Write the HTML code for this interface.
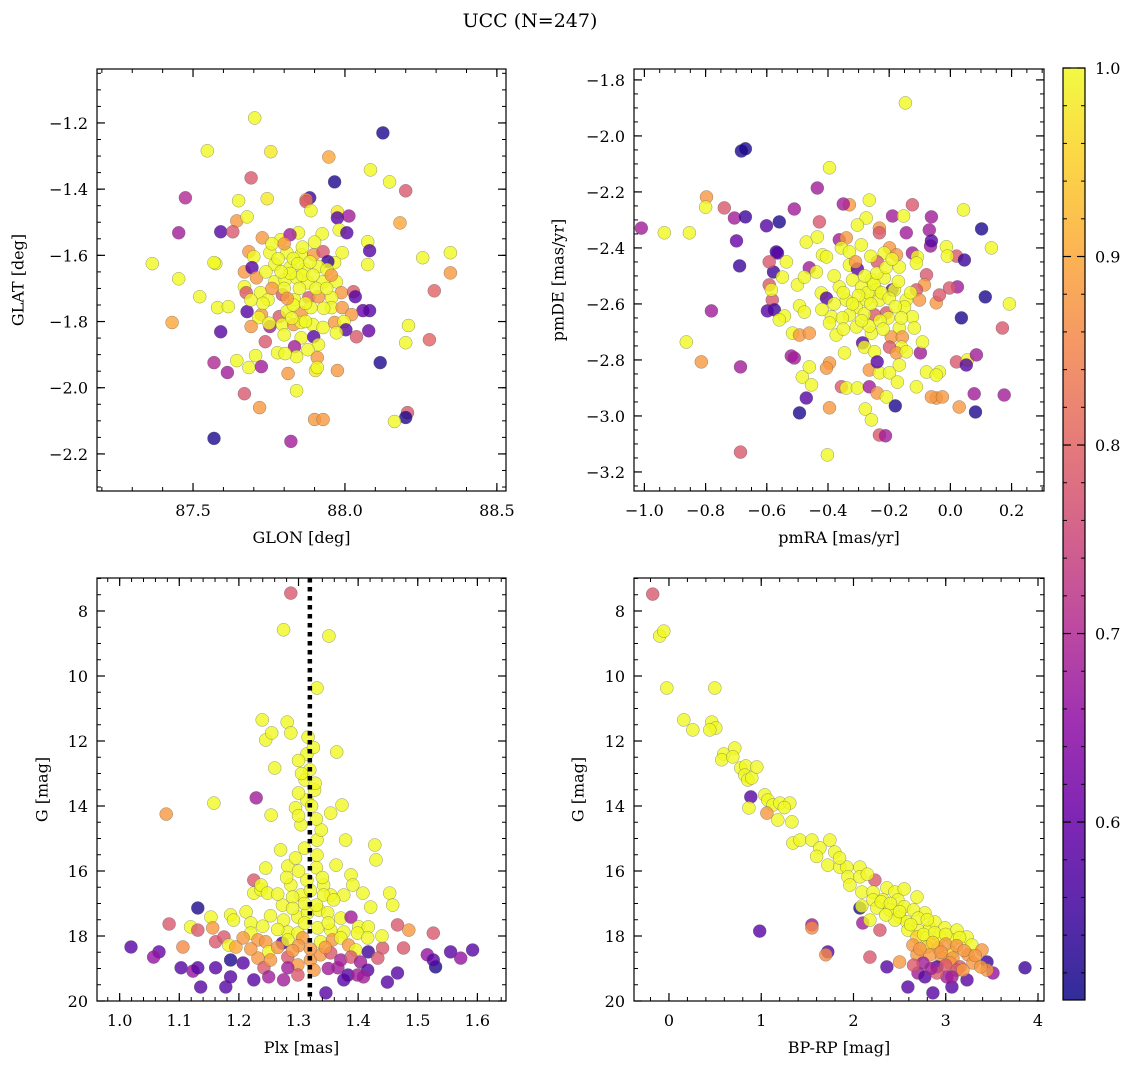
<!DOCTYPE html>
<html><head><meta charset="utf-8"><style>
html,body{margin:0;padding:0;background:#fff;}
svg{display:block;font-family:"DejaVu Serif","Liberation Serif",serif;}
</style></head><body>
<svg id="fig" width="1136" height="1068" viewBox="0 0 1136 1068" xmlns="http://www.w3.org/2000/svg">
<defs>
<linearGradient id="plasmaGrad" x1="0" y1="1" x2="0" y2="0">
<stop offset="0" stop-color="#0d0887"/><stop offset="0.1" stop-color="#41049d"/><stop offset="0.2" stop-color="#6a00a8"/><stop offset="0.3" stop-color="#8f0da4"/><stop offset="0.4" stop-color="#b12a90"/><stop offset="0.5" stop-color="#cc4778"/><stop offset="0.6" stop-color="#e16462"/><stop offset="0.7" stop-color="#f2844b"/><stop offset="0.8" stop-color="#fca636"/><stop offset="0.9" stop-color="#fcce25"/><stop offset="1" stop-color="#f0f921"/>
</linearGradient>
</defs>
<text x="530" y="27" font-size="19" text-anchor="middle">UCC (N=247)</text>
</svg>
<script>
// ---- data: [x, y, membership probability] ----
const glonGlatData = [
[87.703,-1.185,1],[88.125,-1.230,0.52],[87.547,-1.284,1],[87.756,-1.287,0.98],[87.947,-1.303,0.9],[88.084,-1.342,1],[88.147,-1.378,1],[87.966,-1.378,0.52],[88.200,-1.405,0.78],[87.475,-1.426,0.7],[87.691,-1.366,0.78],[87.744,-1.429,0.98],[87.650,-1.435,1],[87.884,-1.426,0.55],[87.872,-1.432,0.88],[87.975,-1.469,0.98],[87.453,-1.532,0.68],[88.347,-1.592,1],[87.366,-1.625,1],[87.575,-1.625,1],[88.256,-1.607,1],[87.453,-1.671,1],[88.347,-1.653,0.88],[88.294,-1.707,0.8],[87.522,-1.725,1],[87.431,-1.803,0.9],[88.059,-1.767,0.6],[88.278,-1.855,0.8],[88.200,-1.864,1],[87.669,-2.018,0.78],[87.719,-2.060,0.88],[87.900,-2.096,0.88],[87.928,-2.096,0.88],[88.206,-2.075,0.78],[88.200,-2.090,0.52],[88.163,-2.102,1],[87.822,-2.162,0.68],[87.569,-2.153,0.52],[88.078,-1.828,0.6],[87.841,-2.009,1],[87.975,-1.948,0.88],[87.903,-1.948,0.98],
[87.872,-1.438,0.78],[87.888,-1.465,1],[88.013,-1.481,0.68],[87.975,-1.487,0.58],[87.644,-1.496,0.88],[87.678,-1.484,1],[87.591,-1.529,0.58],[87.631,-1.529,0.78],[87.728,-1.547,0.88],[87.788,-1.553,1],[87.847,-1.532,1],[87.819,-1.538,0.68],[87.925,-1.535,1],[87.981,-1.523,1],[88.006,-1.532,0.58],[88.075,-1.559,1],[88.081,-1.586,0.58],[88.181,-1.502,0.9],[87.569,-1.622,1],[87.684,-1.589,0.88],[87.700,-1.604,1],[87.753,-1.592,1],[87.809,-1.592,1],[87.856,-1.598,1],[87.897,-1.598,0.88],[87.928,-1.589,0.78],[87.991,-1.592,1],[87.966,-1.622,1],[87.944,-1.619,0.55],[87.669,-1.650,0.88],[87.694,-1.637,0.58],[87.769,-1.628,1],[87.819,-1.637,1],[87.866,-1.643,1],[87.913,-1.634,1],[87.941,-1.643,1],[87.709,-1.668,0.88],[87.669,-1.695,1],[87.675,-1.713,0.78],[87.722,-1.713,1],[87.769,-1.680,1],[87.803,-1.674,1],[87.841,-1.668,1],[87.878,-1.683,1],[87.928,-1.680,1],[87.972,-1.680,1],[87.988,-1.713,0.88],[88.028,-1.710,0.78],[88.034,-1.725,0.58],[88.075,-1.628,1],[87.747,-1.734,1],[87.794,-1.719,0.78],[87.834,-1.734,1],[87.881,-1.728,0.78],[87.913,-1.725,0.88],[87.956,-1.728,1],[87.581,-1.758,1],[87.616,-1.755,1],[87.678,-1.770,0.58],[87.725,-1.779,0.88],[87.716,-1.788,1],[87.784,-1.785,0.78],[87.809,-1.770,1],[87.856,-1.773,0.88],[87.888,-1.758,1],[87.956,-1.758,1],[87.991,-1.758,0.88],[88.022,-1.779,0.88],[88.081,-1.767,0.58],[88.209,-1.812,1],[87.591,-1.831,0.58],[87.691,-1.815,0.88],[87.753,-1.815,0.68],[87.794,-1.809,1],[87.831,-1.809,0.88],[87.856,-1.803,1],[87.894,-1.809,1],[87.928,-1.818,1],[87.966,-1.803,0.88],[87.997,-1.800,1],[88.003,-1.825,0.58],[87.972,-1.834,1],[88.038,-1.846,0.78],[87.738,-1.861,0.78],[87.800,-1.840,1],[87.856,-1.849,1],[87.897,-1.846,0.58],[87.913,-1.870,1],[87.834,-1.876,0.68],[87.841,-1.906,1],[87.778,-1.894,1],[87.803,-1.897,1],[87.878,-1.885,1],[87.909,-1.909,0.88],[87.909,-1.939,1],[88.116,-1.924,0.52],[87.569,-1.924,0.7],[87.613,-1.954,0.68],[87.644,-1.918,1],[87.684,-1.939,1],[87.706,-1.903,1],[87.725,-1.936,0.68],[87.813,-1.957,0.88],
[87.830,-1.610,1],[87.845,-1.625,1],[87.860,-1.660,1],[87.820,-1.655,1],[87.790,-1.650,1],[87.800,-1.700,1],[87.850,-1.700,1],[87.895,-1.660,1],[87.905,-1.700,1],[87.780,-1.610,1],[87.740,-1.650,1],[87.760,-1.700,0.88],[87.830,-1.750,1],[87.870,-1.745,1],[87.810,-1.730,0.88],[87.885,-1.620,1],[87.760,-1.565,1],[87.900,-1.560,1],[87.940,-1.700,1],[87.825,-1.790,1],[87.870,-1.800,1],[87.730,-1.745,1],[87.955,-1.660,0.88],[87.860,-1.575,1],[87.800,-1.565,0.88],[87.750,-1.805,1],[87.930,-1.760,1],[87.690,-1.735,1]
];
const pmData = [
[-0.147,-1.882,1],[-0.683,-2.054,0.52],[-0.670,-2.046,0.52],[-0.395,-2.114,1],[-1.010,-2.329,0.68],[-0.797,-2.218,0.88],[-0.800,-2.254,1],[-0.739,-2.257,0.78],[-0.706,-2.293,0.68],[-0.670,-2.289,0.55],[-0.699,-2.375,0.6],[-0.689,-2.464,0.55],[-0.935,-2.346,1],[-0.781,-2.625,0.68],[-0.853,-2.346,1],[-0.863,-2.736,1],[-0.814,-2.807,0.88],[-0.686,-3.129,0.78],[-0.686,-2.825,0.68],[-0.559,-2.307,0.52],[-0.510,-2.261,0.68],[-0.569,-2.414,0.55],[-0.578,-2.486,0.55],[-0.592,-2.532,0.78],[-0.582,-2.586,0.78],[-0.575,-2.621,0.55],[-0.542,-2.643,1],[-0.520,-2.786,0.68],[-0.493,-2.989,0.52],[-0.402,-3.139,1],[-0.395,-2.971,0.88],[-0.278,-2.975,1],[-0.258,-3.014,1],[-0.232,-3.068,0.78],[-0.212,-3.071,0.68],[-0.180,-2.964,0.52],[-0.098,-2.775,0.68],[-0.111,-2.896,1],[-0.036,-2.843,1],[-0.046,-2.936,0.88],[0.029,-2.968,0.88],[0.082,-2.986,0.52],[0.078,-2.921,0.68],[0.020,-2.807,0.78],[0.176,-2.925,0.68],[0.170,-2.686,0.78],[0.193,-2.600,1],[0.114,-2.575,0.52],[0.134,-2.400,1],[0.102,-2.332,0.52],[0.043,-2.264,1],[0.020,-2.429,0.78],[0.023,-2.539,0.68],[0.036,-2.650,0.52],[-0.065,-2.393,0.68],[-0.069,-2.336,0.68],[-0.435,-2.186,0.68],[-0.265,-2.229,1],[-0.330,-2.246,0.88],[-0.350,-2.243,0.68],[-0.189,-2.286,0.68],[-0.232,-2.329,0.88],[-0.153,-2.286,1],[-0.428,-2.307,0.78],[-0.363,-2.371,0.68],
[-0.124,-2.246,0.78],[-0.062,-2.289,0.68],[-0.275,-2.293,1],[-0.304,-2.318,1],[-0.601,-2.321,0.58],[-0.232,-2.346,0.78],[-0.144,-2.346,0.68],[-0.062,-2.375,0.58],[-0.471,-2.379,1],[-0.435,-2.361,1],[-0.340,-2.364,0.88],[-0.291,-2.389,1],[-0.356,-2.400,1],[-0.330,-2.414,1],[-0.199,-2.400,0.88],[-0.216,-2.418,1],[-0.176,-2.425,0.88],[-0.124,-2.418,0.68],[-0.108,-2.432,1],[-0.013,-2.396,1],[-0.010,-2.429,1],[0.046,-2.443,0.55],[-0.565,-2.418,0.58],[-0.592,-2.450,0.78],[-0.536,-2.450,1],[-0.549,-2.504,1],[-0.461,-2.471,0.68],[-0.438,-2.486,1],[-0.418,-2.425,1],[-0.405,-2.432,1],[-0.330,-2.461,1],[-0.304,-2.475,0.58],[-0.239,-2.450,0.78],[-0.167,-2.468,1],[-0.111,-2.454,1],[-0.078,-2.496,0.78],[-0.085,-2.532,0.88],[-0.003,-2.543,0.78],[-0.585,-2.550,1],[-0.500,-2.532,1],[-0.477,-2.504,1],[-0.422,-2.561,1],[-0.405,-2.579,0.58],[-0.363,-2.539,1],[-0.320,-2.514,1],[-0.258,-2.514,1],[-0.242,-2.550,1],[-0.216,-2.507,1],[-0.190,-2.550,0.58],[-0.183,-2.550,1],[-0.111,-2.550,0.78],[-0.101,-2.586,0.88],[-0.046,-2.596,0.88],[-0.036,-2.568,0.78],[-0.598,-2.625,0.58],[-0.493,-2.607,1],[-0.477,-2.629,1],[-0.340,-2.586,1],[-0.307,-2.611,1],[-0.275,-2.586,1],[-0.232,-2.586,1],[-0.144,-2.586,1],[-0.150,-2.611,1],[-0.209,-2.632,0.78],[-0.248,-2.639,0.78],[-0.281,-2.636,1],[-0.330,-2.639,1],[-0.389,-2.646,1],[-0.353,-2.650,1],[-0.559,-2.657,1],[-0.395,-2.668,1],[-0.203,-2.650,1],[-0.124,-2.646,1],[-0.307,-2.682,1],[-0.258,-2.704,1],[-0.167,-2.686,1],[-0.118,-2.686,1],[-0.516,-2.704,1],[-0.493,-2.711,0.88],[-0.461,-2.704,0.88],[-0.373,-2.711,1],[-0.265,-2.679,1],[-0.193,-2.718,0.88],[-0.157,-2.718,0.88],[-0.160,-2.754,1],[-0.199,-2.754,0.78],[-0.091,-2.736,1],[-0.287,-2.739,0.58],[-0.281,-2.754,1],[-0.248,-2.771,1],[-0.346,-2.775,1],[-0.176,-2.775,0.88],[-0.144,-2.771,1],[-0.510,-2.793,0.68],[-0.395,-2.811,0.88],[-0.461,-2.825,1],[-0.484,-2.861,1],[-0.454,-2.889,1],[-0.405,-2.829,0.88],[-0.265,-2.836,0.88],[-0.232,-2.846,1],[-0.199,-2.846,1],[-0.167,-2.818,1],[-0.173,-2.879,1],[-0.239,-2.807,0.58],[-0.078,-2.843,1],[-0.046,-2.854,1],[0.056,-2.800,1],[0.085,-2.782,0.68],[0.052,-2.818,0.58],[-0.356,-2.896,0.78],[-0.340,-2.900,1],[-0.304,-2.900,1],[-0.265,-2.896,0.68],[-0.239,-2.918,0.88],[-0.209,-2.932,1],[-0.062,-2.932,0.88],[-0.026,-2.932,0.88],[-0.471,-2.936,0.58],
[-0.290,-2.540,1],[-0.270,-2.560,1],[-0.250,-2.530,1],[-0.225,-2.560,1],[-0.300,-2.570,1],[-0.260,-2.600,1],[-0.200,-2.580,1],[-0.180,-2.610,1],[-0.320,-2.600,1],[-0.240,-2.490,1],[-0.280,-2.500,1],[-0.210,-2.470,1],[-0.350,-2.560,1],[-0.380,-2.600,1],[-0.160,-2.650,1],[-0.230,-2.660,1],[-0.290,-2.660,1],[-0.350,-2.690,1],[-0.220,-2.690,1],[-0.130,-2.560,1],[-0.380,-2.500,1],[-0.420,-2.620,1],[-0.170,-2.520,1],[-0.310,-2.450,0.88],[-0.190,-2.440,1],[-0.260,-2.430,1]
];
const plxGData = [
[1.287,7.45,0.78],[1.275,8.58,1],[1.351,8.77,1],[1.331,10.37,1],[1.239,11.35,1],[1.281,11.42,1],[1.245,11.97,1],[1.255,11.75,1],[1.287,11.75,1],[1.316,11.88,1],[1.364,12.34,1],[1.260,12.83,1],[1.314,12.40,1],[1.319,12.89,1],[1.311,13.20,1],[1.327,13.51,1],[1.314,13.82,1],[1.078,14.25,0.88],[1.158,13.91,1],[1.229,13.75,0.68],[1.254,14.28,1],[1.295,14.06,1],[1.354,14.22,1],[1.373,13.97,1],[1.428,15.20,1],[1.331,15.05,1],[1.331,15.51,1],[1.245,15.91,1],[1.282,15.85,1],[1.314,16.28,1],[1.363,15.82,1],[1.388,16.12,1],[1.430,15.66,1],[1.453,16.68,1],[1.458,17.05,1],[1.225,16.28,0.78],[1.225,16.68,1],[1.237,16.58,1],[1.186,17.35,1],[1.153,17.42,1],[1.338,14.74,1],[1.304,14.58,1],[1.270,15.35,1],[1.379,15.05,1],[1.304,16.74,1],[1.354,16.74,1],[1.273,17.05,1],[1.408,16.68,1],
[1.237,16.43,1],[1.287,16.43,1],[1.342,16.43,1],[1.391,16.43,1],[1.248,16.68,1],[1.265,16.71,1],[1.290,16.80,1],[1.342,16.74,1],[1.376,16.74,1],[1.359,16.89,1],[1.131,17.14,0.52],[1.212,17.26,1],[1.191,17.51,1],[1.220,17.60,1],[1.253,17.38,1],[1.275,17.51,1],[1.299,17.42,1],[1.315,17.29,1],[1.334,17.20,1],[1.349,17.29,1],[1.371,17.45,1],[1.388,17.42,0.68],[1.421,17.11,1],[1.401,17.72,1],[1.417,17.72,1],[1.083,17.63,0.78],[1.119,17.72,1],[1.131,17.82,0.78],[1.156,17.75,0.88],[1.220,17.91,1],[1.282,17.88,1],[1.299,17.91,1],[1.332,17.75,1],[1.354,17.82,1],[1.376,17.88,1],[1.399,17.91,1],[1.466,17.66,0.78],[1.485,17.82,0.88],[1.526,17.91,0.78],[1.019,18.34,0.58],[1.066,18.49,0.6],[1.057,18.65,0.66],[1.106,18.34,0.86],[1.161,18.18,0.78],[1.175,18.03,0.78],[1.183,18.28,1],[1.195,18.34,0.9],[1.207,18.06,0.88],[1.232,18.12,0.88],[1.245,18.18,0.88],[1.250,18.49,1],[1.273,18.22,0.58],[1.282,18.12,1],[1.307,18.06,0.88],[1.337,18.18,1],[1.357,18.12,0.88],[1.371,18.06,1],[1.384,18.28,0.88],[1.396,18.43,1],[1.416,18.06,1],[1.441,18.37,0.78],[1.476,18.37,0.78],[1.417,18.49,0.55],[1.516,18.58,0.66],[1.530,18.95,0.52],[1.555,18.49,0.58],[1.572,18.68,0.66],[1.592,18.43,0.58],[1.103,18.98,0.58],[1.123,19.08,0.66],[1.131,18.98,0.58],[1.161,18.98,0.58],[1.186,18.74,0.52],[1.207,18.83,0.58],[1.232,18.68,0.88],[1.242,18.98,0.78],[1.253,18.74,0.88],[1.282,18.65,0.78],[1.299,18.89,0.88],[1.320,18.74,0.88],[1.337,18.58,0.88],[1.354,18.52,0.78],[1.371,18.74,0.68],[1.388,18.65,0.78],[1.404,18.80,0.68],[1.433,18.68,0.78],[1.282,18.98,0.68],[1.299,19.20,0.78],[1.326,19.05,0.88],[1.366,18.98,0.68],[1.383,19.20,0.58],[1.399,19.20,0.68],[1.416,19.05,0.58],[1.136,19.57,0.58],[1.178,19.57,0.58],[1.186,19.26,0.58],[1.225,19.35,0.58],[1.250,19.26,0.68],[1.275,19.35,0.68],[1.376,19.35,0.58],[1.409,19.26,0.68],[1.449,19.42,0.58],[1.466,19.14,0.58],[1.346,19.75,0.58],[1.526,18.74,0.58],
[1.300,12.60,1],[1.325,12.20,1],[1.305,13.00,1],[1.328,13.30,1],[1.300,13.60,1],[1.322,14.00,1],[1.300,14.30,1],[1.330,14.40,1],[1.310,15.30,1],[1.295,15.60,1],[1.330,15.90,1],[1.300,16.00,1],[1.340,16.20,1],[1.280,16.20,1],[1.320,16.60,1],[1.310,17.00,1],[1.330,17.05,1],[1.290,17.15,1],[1.350,17.60,1],[1.310,17.60,1],[1.265,17.80,1],[1.300,18.30,0.88],[1.320,18.40,0.88],[1.345,18.35,0.88],[1.290,18.45,0.88],[1.265,18.35,0.88],[1.350,19.00,0.68],[1.220,18.40,0.88],[1.440,18.00,1],[1.240,17.70,1]
];
const cmdData = [
[-0.176,7.48,0.78],[-0.100,8.77,1],[-0.056,8.62,1],[-0.024,10.37,1],[0.161,11.35,1],[0.258,11.66,1],[0.497,10.37,1],[0.464,11.42,1],[0.508,11.60,1],[0.443,11.66,1],[0.594,12.40,1],[0.573,12.58,1],[0.714,12.22,1],[0.692,12.49,1],[0.779,12.83,1],[0.833,12.77,1],[0.822,13.05,1],[0.855,13.20,1],[0.898,13.14,1],[0.952,12.80,1],[0.887,13.72,0.58],[0.866,14.06,1],[1.039,13.66,1],[1.072,13.82,1],[1.126,13.97,1],[1.202,13.91,1],[1.310,13.91,1],[1.061,14.22,0.88],[1.180,14.43,1],[1.332,14.49,1],[1.343,15.14,1],[1.419,15.05,1],[1.549,15.05,1],[1.636,15.29,1],[1.744,15.05,1],[1.798,15.42,1],[1.722,15.82,1],[1.852,15.88,1],[1.928,15.88,1],[2.069,15.88,1],[1.939,16.18,1],[2.069,16.18,1],[2.232,16.28,0.78],[1.961,16.43,1],[2.091,16.65,1],[2.211,16.65,1],[2.362,16.52,1],[2.449,16.65,1],[2.688,16.80,1],[2.211,16.89,1],[2.319,16.89,1],[2.481,16.89,1],[2.069,17.14,0.52],[2.090,17.08,1],[2.254,17.14,1],[2.395,17.20,1],[2.503,17.42,1],[2.774,17.29,1],[2.579,17.57,1],[2.449,17.51,1],[2.101,17.60,0.68],[2.178,17.51,1],[2.286,17.82,0.78],[2.699,17.82,1],[2.828,17.75,1],[2.883,17.57,1],[2.991,17.75,1],[3.121,17.82,1],[2.590,17.82,1],[2.688,18.03,0.95],[2.796,18.06,1],[2.937,18.03,1],[3.078,18.12,1],[3.230,18.03,1],[2.644,18.28,0.88],[2.796,18.34,0.95],[2.915,18.37,0.88],[3.067,18.52,0.95],[3.284,18.28,1],[3.393,18.43,0.88],[1.722,18.49,0.58],[1.700,18.58,0.86],[2.688,18.58,0.88],[2.828,18.58,0.88],[2.959,18.68,0.88],[3.078,18.68,0.88],[3.241,18.58,0.88],[2.178,18.65,0.78],[2.753,18.83,0.68],[2.905,18.95,0.58],[3.046,18.83,0.88],[3.154,18.95,0.78],[3.295,18.83,0.88],[3.447,18.80,0.55],[3.512,19.14,0.66],[2.362,18.95,0.58],[2.699,19.14,0.68],[2.774,19.26,0.58],[3.013,19.26,0.68],[3.121,19.05,0.78],[3.230,19.35,0.58],[3.067,19.57,0.58],[2.590,19.57,0.58],[2.861,19.75,0.58],[3.859,18.98,0.55],[3.447,19.05,0.88],[3.186,19.05,0.88],[2.905,19.14,0.78],[3.067,19.26,0.68],[0.984,17.85,0.58],[1.549,17.66,0.68],[1.549,17.75,0.86],
[2.300,16.95,1],[2.400,17.00,1],[2.550,17.10,1],[2.650,17.20,1],[2.500,17.25,1],[2.350,17.35,1],[2.700,17.45,1],[2.800,17.50,1],[2.620,17.65,1],[2.760,17.95,1],[2.880,17.90,1],[3.000,17.95,1],[3.150,18.05,1],[2.860,18.20,0.95],[3.000,18.25,0.88],[3.120,18.30,0.88],[3.200,18.45,0.88],[2.720,18.40,0.88],[2.950,18.50,0.88],[3.320,18.60,0.88],[3.000,18.90,0.78],[2.840,19.00,0.68],[2.650,18.90,0.78],[3.380,18.95,0.88],[2.500,18.80,0.88],[1.600,15.55,1],[1.850,15.60,1],[2.150,16.10,1],[2.550,16.55,1],[1.250,14.05,1]
];
const plxCenter = 1.319;
const glonTicks = [87.5, 88.0, 88.5];
const glatTicks = [-2.2, -2.0, -1.8, -1.6, -1.4, -1.2];
const pmraTicks = [-1.0, -0.8, -0.6, -0.4, -0.2, 0.0, 0.2];
const pmdeTicks = [-3.2, -3.0, -2.8, -2.6, -2.4, -2.2, -2.0, -1.8];
const plxTicks = [1.0, 1.1, 1.2, 1.3, 1.4, 1.5, 1.6];
const gTicks = [8, 10, 12, 14, 16, 18, 20];
const bprpTicks = [0, 1, 2, 3, 4];
const cbarTicks = [0.6, 0.7, 0.8, 0.9, 1.0];

const NS = "http://www.w3.org/2000/svg";
const svg = document.getElementById("fig");
function mk(tag, attrs, parent) {
  const e = document.createElementNS(NS, tag);
  for (const k in attrs) e.setAttribute(k, attrs[k]);
  (parent || svg).appendChild(e);
  return e;
}
const stops = ["#0d0887","#41049d","#6a00a8","#8f0da4","#b12a90","#cc4778","#e16462","#f2844b","#fca636","#fcce25","#f0f921"];
const vmin = 0.5056, vmax = 1.0;
function plasma(v) {
  let t = (v - vmin) / (vmax - vmin); t = Math.max(0, Math.min(1, t));
  const f = t * 10, i = Math.min(9, Math.floor(f)), r = f - i;
  const a = stops[i], b = stops[i + 1];
  const c = [1,3,5].map(j => Math.round(parseInt(a.substr(j,2),16)*(1-r) + parseInt(b.substr(j,2),16)*r));
  return `rgb(${c[0]},${c[1]},${c[2]})`;
}
function fmt(v, d) { return v.toFixed(d).replace("-", "\u2212"); }

const panels = [
  {name:"glon-glat", box:[97,69,506,491], xd:[87.184,88.53], yd:[-1.037,-2.312], xt:glonTicks, yt:glatTicks, xmin:0.1, ymin:0.05, xdec:1, ydec:1, xl:"GLON [deg]", yl:"GLAT [deg]", ylx:18, data:glonGlatData},
  {name:"proper-motion", box:[634,69,1044,491], xd:[-1.034,0.306], yd:[-1.761,-3.268], xt:pmraTicks, yt:pmdeTicks, xmin:0.05, ymin:0.05, xdec:1, ydec:1, xl:"pmRA [mas/yr]", yl:"pmDE [mas/yr]", ylx:558, data:pmData},
  {name:"plx-g", box:[97,578,506,1001], xd:[0.962,1.648], yd:[6.985,20], xt:plxTicks, yt:gTicks, xmin:0.02, ymin:0.5, xdec:1, ydec:0, xl:"Plx [mas]", yl:"G [mag]", ylx:42, data:plxGData},
  {name:"cmd", box:[634,578,1044,1001], xd:[-0.379,4.065], yd:[6.985,20], xt:bprpTicks, yt:gTicks, xmin:0.2, ymin:0.5, xdec:0, ydec:0, xl:"BP-RP [mag]", yl:"G [mag]", ylx:578, data:cmdData}
];

panels.forEach(p => {
  const [x0,y0,x1,y1] = p.box;
  const sx = v => x0 + (v - p.xd[0]) / (p.xd[1] - p.xd[0]) * (x1 - x0);
  const sy = v => y0 + (v - p.yd[0]) / (p.yd[1] - p.yd[0]) * (y1 - y0);
  const g = mk("g", {});
  
  
  const clip = mk("clipPath", {id:"clip-"+p.name}, g);
  mk("rect", {x:x0, y:y0, width:x1-x0, height:y1-y0}, clip);
  const pts = mk("g", {"clip-path":"url(#clip-"+p.name+")"}, g);
  
  
  p.data.forEach(d => {
    const c = mk("circle", {cx:sx(d[0]).toFixed(1), cy:sy(d[1]).toFixed(1), r:6.5, fill:plasma(d[2]), "fill-opacity":0.8, stroke:"#555", "stroke-width":0.5, "stroke-opacity":0.6}, pts);
    
    
  });
  if (p.name === "plx-g") {
    const l = mk("line", {x1:sx(plxCenter), x2:sx(plxCenter), y1:y0, y2:y1, stroke:"#000", "stroke-width":4.5, "stroke-dasharray":"4.5 4.5"}, g);
    
    
  }
  const fr = mk("rect", {x:x0, y:y0, width:x1-x0, height:y1-y0, fill:"none", stroke:"#000", "stroke-width":1.2}, g);
  
  
  const lo = Math.min(p.xd[0],p.xd[1]), hi = Math.max(p.xd[0],p.xd[1]);
  for (let k = Math.ceil(lo/p.xmin - 1e-6); k*p.xmin <= hi + 1e-9; k++) {
    const X = sx(k*p.xmin);
    mk("line",{x1:X,x2:X,y1:y1,y2:y1-4,stroke:"#000","stroke-width":1},g);
    mk("line",{x1:X,x2:X,y1:y0,y2:y0+4,stroke:"#000","stroke-width":1},g);
  }
  const ylo = Math.min(p.yd[0],p.yd[1]), yhi = Math.max(p.yd[0],p.yd[1]);
  for (let k = Math.ceil(ylo/p.ymin - 1e-6); k*p.ymin <= yhi + 1e-9; k++) {
    const Y = sy(k*p.ymin);
    mk("line",{x1:x0,x2:x0+4,y1:Y,y2:Y,stroke:"#000","stroke-width":1},g);
    mk("line",{x1:x1,x2:x1-4,y1:Y,y2:Y,stroke:"#000","stroke-width":1},g);
  }
  p.xt.forEach(v => {
    const X = sx(v);
    mk("line",{x1:X,x2:X,y1:y1,y2:y1-8,stroke:"#000","stroke-width":1.2},g);
    mk("line",{x1:X,x2:X,y1:y0,y2:y0+8,stroke:"#000","stroke-width":1.2},g);
    const t = mk("text",{x:X, y:y1+25, "font-size":16, "text-anchor":"middle"},g);
    t.textContent = fmt(v, p.xdec);
    
    
  });
  p.yt.forEach(v => {
    const Y = sy(v);
    mk("line",{x1:x0,x2:x0+8,y1:Y,y2:Y,stroke:"#000","stroke-width":1.2},g);
    mk("line",{x1:x1,x2:x1-8,y1:Y,y2:Y,stroke:"#000","stroke-width":1.2},g);
    const t = mk("text",{x:x0-9, y:Y+6, "font-size":16, "text-anchor":"end"},g);
    t.textContent = fmt(v, p.ydec);
    
    
  });
  const xl = mk("text",{x:(x0+x1)/2, y:y1+52, "font-size":16, "text-anchor":"middle"},g);
  xl.textContent = p.xl;
  
  
  const yc = (y0+y1)/2;
  const yl = mk("text",{x:p.ylx, y:yc, "font-size":16, "text-anchor":"middle", transform:`rotate(-90 ${p.ylx} ${yc})`, "dominant-baseline":"central"},g);
  yl.textContent = p.yl;
  
  
});

const cb = mk("g", {});


const cx0 = 1063, cx1 = 1085, cy0 = 68, cy1 = 1000;
const cbar = mk("rect",{x:cx0,y:cy0,width:cx1-cx0,height:cy1-cy0,fill:"url(#plasmaGrad)","fill-opacity":0.85},cb);


mk("rect",{x:cx0,y:cy0,width:cx1-cx0,height:cy1-cy0,fill:"none",stroke:"#000","stroke-width":1.2},cb);
const cy = v => cy1 - (v - vmin)/(vmax - vmin)*(cy1 - cy0);
for (let k = 26; k <= 50; k++) {
  const Y = cy(k*0.02);
  if (Y < cy0 - 0.5 || Y > cy1) continue;
  mk("line",{x1:cx1,x2:cx1-4,y1:Y,y2:Y,stroke:"#000","stroke-width":1},cb);
  mk("line",{x1:cx0,x2:cx0+4,y1:Y,y2:Y,stroke:"#000","stroke-width":1},cb);
}
cbarTicks.forEach(v => {
  const Y = cy(v);
  mk("line",{x1:cx1,x2:cx1-8,y1:Y,y2:Y,stroke:"#000","stroke-width":1.2},cb);
  mk("line",{x1:cx0,x2:cx0+8,y1:Y,y2:Y,stroke:"#000","stroke-width":1.2},cb);
  const t = mk("text",{x:cx1+10,y:Y+6,"font-size":16},cb);
  t.textContent = v.toFixed(1);
  
  
});
</script>
</body></html>
